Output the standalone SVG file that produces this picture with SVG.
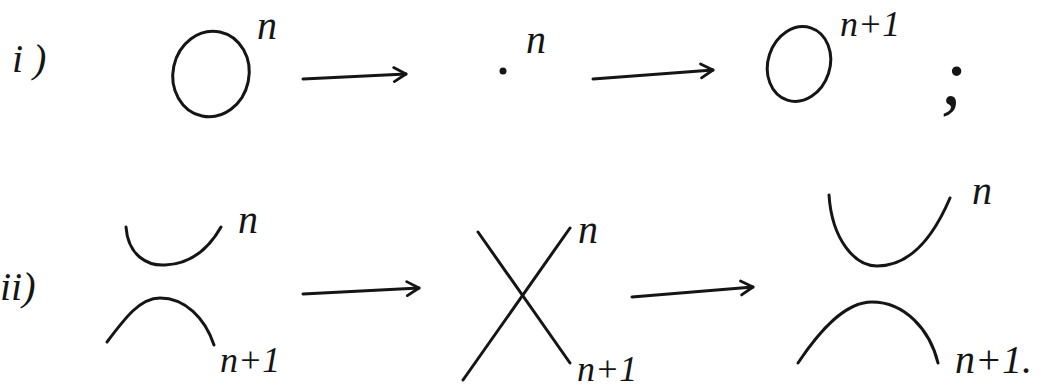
<svg xmlns="http://www.w3.org/2000/svg" width="1057" height="388" viewBox="0 0 1057 388">
<style>
.s{fill:none;stroke:#151515;stroke-width:3;stroke-linecap:round;stroke-linejoin:round}
.t{font-family:"Liberation Serif","Times New Roman",serif;font-style:italic;fill:#151515}
.lbl{font-size:40px}
.sm{font-size:36px}
</style>
<defs>
<marker id="ah" markerUnits="userSpaceOnUse" markerWidth="20" markerHeight="20" refX="14" refY="8" orient="auto" viewBox="0 0 20 16">
<path d="M2,1 L14,8 L2,15" fill="none" stroke="#151515" stroke-width="2.8" stroke-linecap="round" stroke-linejoin="round"/>
</marker>
</defs>
<rect width="1057" height="388" fill="#fff"/>
<g id="labels">
<text class="t lbl" x="12" y="72">i )</text>
<text class="t lbl" x="0" y="300">ii)</text>
</g>
<g id="row1-circle-n">
<ellipse class="s" cx="211" cy="74" rx="38" ry="43" transform="rotate(12 211 74)"/>
<text class="t lbl" x="257" y="39">n</text>
</g>
<g id="row1-dot-n">
<circle cx="503" cy="71" r="3.5" fill="#151515"/>
<text class="t lbl" x="526" y="53">n</text>
</g>
<g id="row1-circle-n1">
<ellipse class="s" cx="799" cy="64" rx="31" ry="38" transform="rotate(18 799 64)"/>
<text class="t sm" x="840" y="36">n+1</text>
<text class="t" style="font-size:80px" x="940" y="104">;</text>
</g>
<g id="row2-arcs-left">
<path class="s" d="M126,227 C128,256 148,266 165,265 C190,264 208,250 221,227"/>
<path class="s" d="M107,342 C125,318 140,298 160,298 C185,298 205,318 214,345"/>
<text class="t lbl" x="238" y="233">n</text>
<text class="t sm" x="220" y="372">n+1</text>
</g>
<g id="row2-cross">
<path class="s" d="M478,232 L570,363"/>
<path class="s" d="M463,380 L570,228"/>
<text class="t lbl" x="578" y="243">n</text>
<text class="t sm" x="577" y="381">n+1</text>
</g>
<g id="row2-arcs-right">
<path class="s" d="M829,195 C832,240 855,266 877,266 C905,266 930,245 950,198"/>
<path class="s" d="M798,363 C820,330 845,302 872,302 C905,302 930,330 938,363"/>
<text class="t lbl" x="972" y="204">n</text>
<text class="t lbl" x="955" y="373">n+1.</text>
</g>
<g id="connectors">
<path class="s" d="M303,79 L406,74" marker-end="url(#ah)"/>
<path class="s" d="M593,79 L713,70" marker-end="url(#ah)"/>
<path class="s" d="M303,294 L419,288" marker-end="url(#ah)"/>
<path class="s" d="M632,297 L753,287" marker-end="url(#ah)"/>
</g>
</svg>
